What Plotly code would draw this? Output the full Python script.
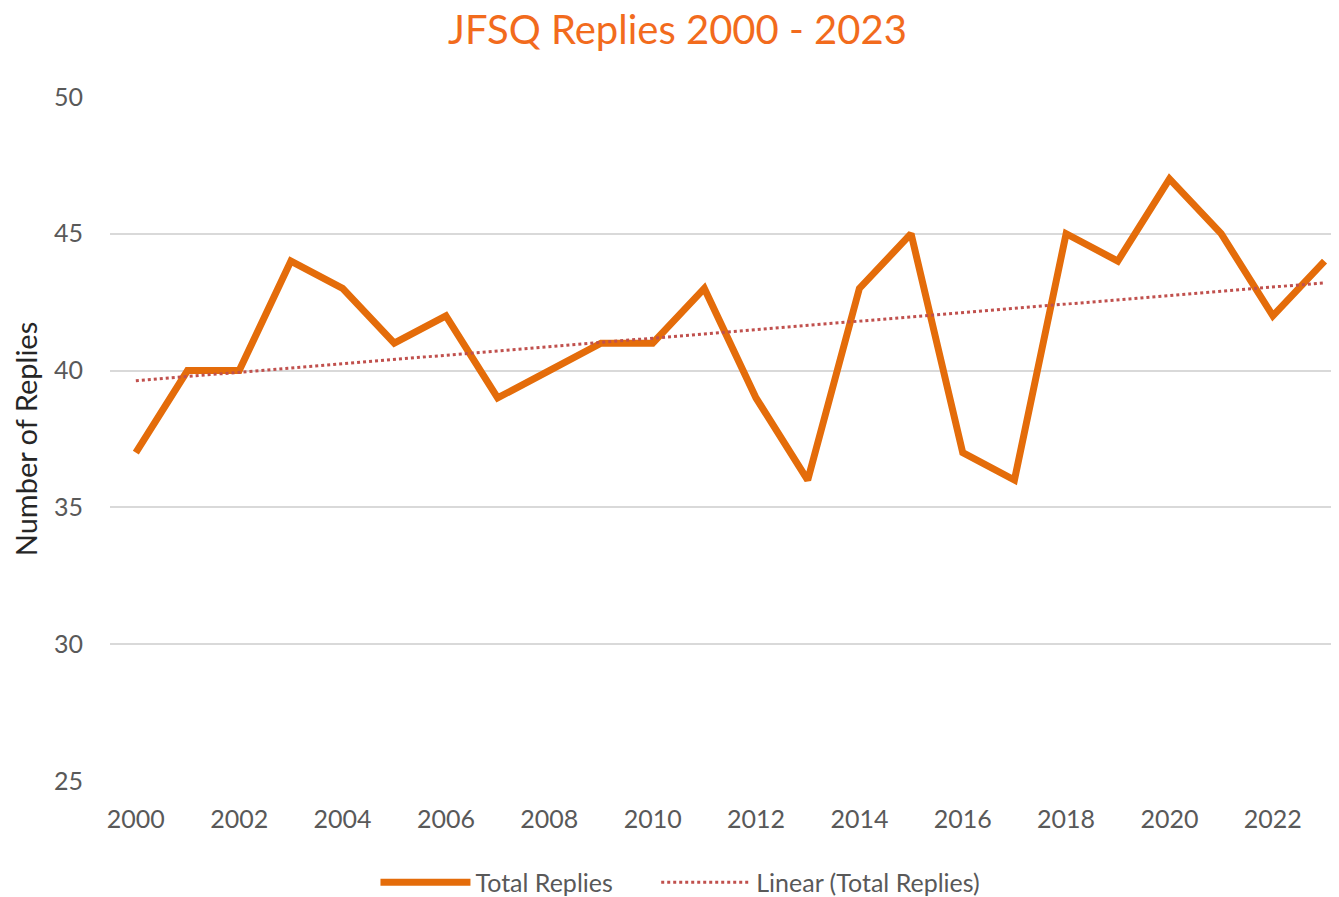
import numpy as np
import plotly.graph_objects as go

years = list(range(2000, 2024))
replies = [37, 40, 40, 44, 43, 41, 42, 39, 40, 41, 41, 43,
           39, 36, 43, 45, 37, 36, 45, 44, 47, 45, 42, 44]

# Linear trendline (least squares fit of the data)
slope, intercept = np.polyfit(years, replies, 1)
trend = [slope * y + intercept for y in years]

FONT = "Lato, 'Open Sans', sans-serif"
GRAY = "#595959"
NB = "\u00a0" * 6

fig = go.Figure()
fig.add_trace(go.Scatter(
    x=years, y=replies, mode="lines", name="Total Replies" + NB,
    line=dict(color="#E46C0A", width=7),
))
fig.add_trace(go.Scatter(
    x=years, y=trend, mode="lines", name="Linear (Total Replies)",
    line=dict(color="#C0504D", width=3, dash="dot"),
))

fig.update_layout(
    width=1339, height=897,
    margin=dict(l=102, r=8, t=88, b=123, autoexpand=False),
    paper_bgcolor="white", plot_bgcolor="white",
    title=dict(text="JFSQ Replies 2000 - 2023", x=0.5, xanchor="center",
               y=0.975, yanchor="middle",
               font=dict(family=FONT, size=40, color="#F26B1D")),
    font=dict(family=FONT, color=GRAY),
    legend=dict(orientation="h", x=0.216, xanchor="left",
                yref="container", y=0.025, yanchor="middle",
                font=dict(family=FONT, size=25, color=GRAY), itemwidth=90),
    xaxis=dict(range=[1999.5, 2023.28], tickmode="array",
               tickvals=list(range(2000, 2024, 2)),
               ticktext=[str(y) for y in range(2000, 2024, 2)],
               showgrid=False, zeroline=False, showline=False,
               tickfont=dict(size=25, color=GRAY), ticklabelstandoff=20),
    yaxis=dict(range=[24.97, 50.03], tickvals=[25, 30, 35, 40, 45, 50],
               showgrid=True, gridcolor="#D9D9D9", gridwidth=2,
               zeroline=False, showline=False,
               tickfont=dict(size=25, color=GRAY), ticklabelstandoff=26,
               title=dict(text="Number of Replies", standoff=12,
                          font=dict(family=FONT, size=29, color="#262626"))),
)

fig.write_html("out.html")
